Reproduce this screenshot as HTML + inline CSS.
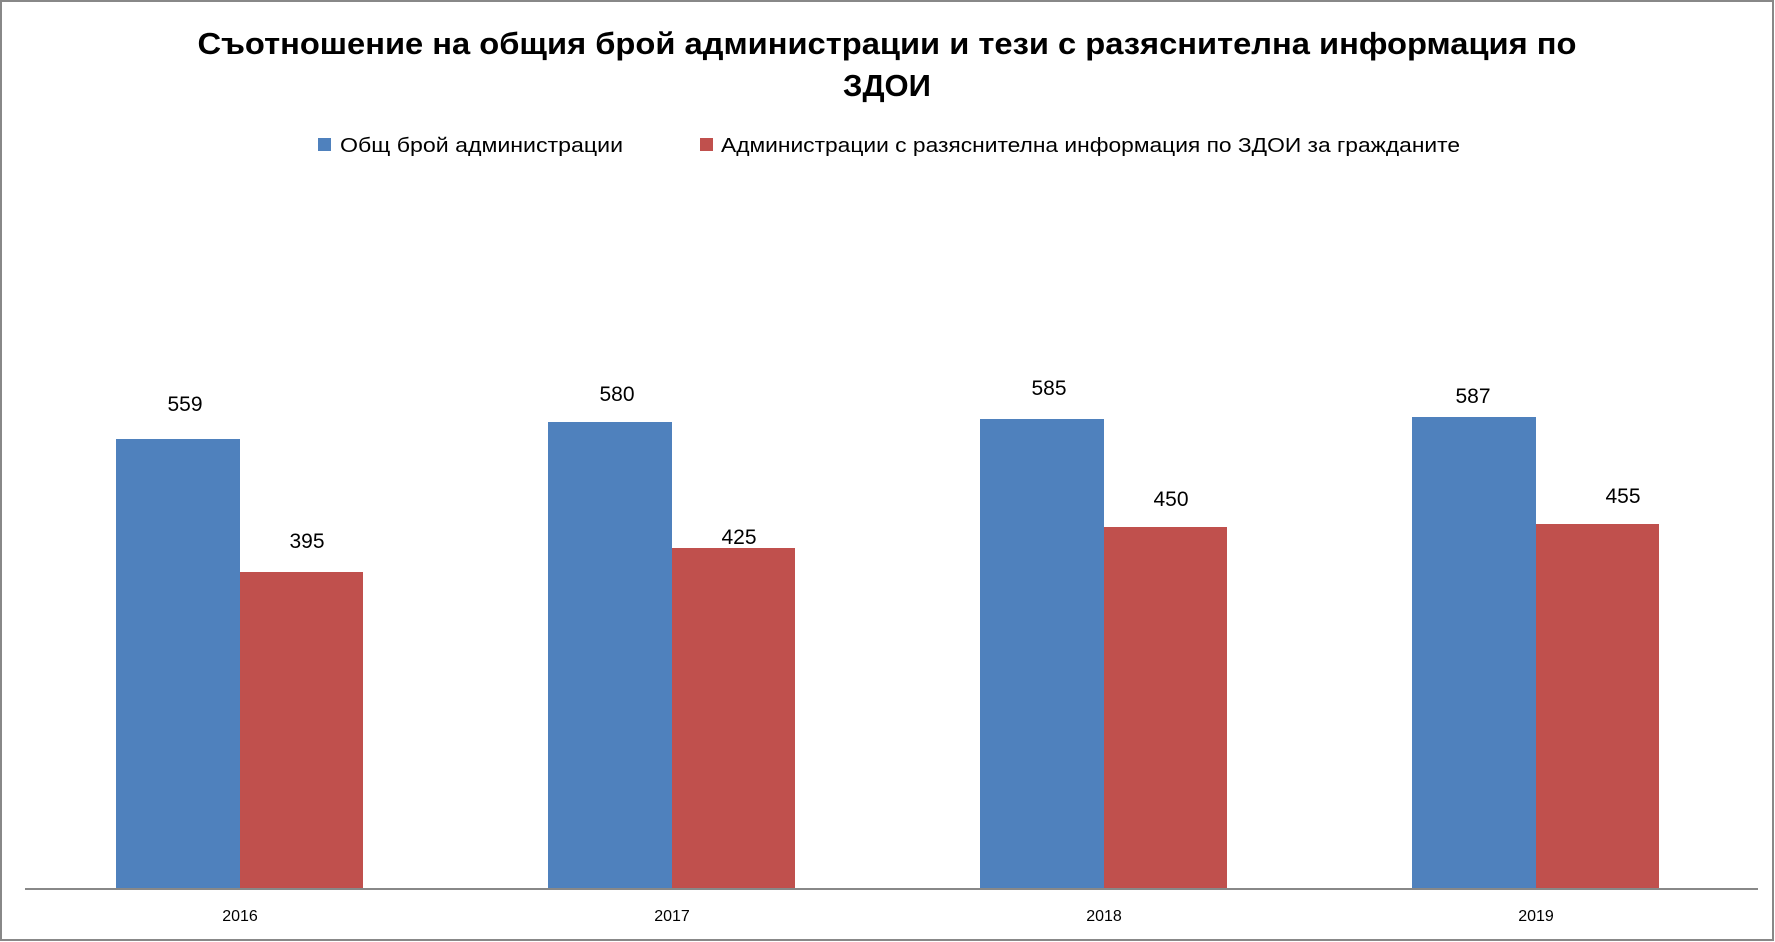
<!DOCTYPE html>
<html><head><meta charset="utf-8"><style>body{margin:0;background:#fff}svg{display:block}</style></head><body>
<svg width="1775" height="942" xmlns="http://www.w3.org/2000/svg" font-family="Liberation Sans, sans-serif">
<rect x="1" y="1" width="1772" height="939" fill="#fff" stroke="#888" stroke-width="2"/>
<text x="887" y="54" font-size="31" font-weight="bold" text-anchor="middle" textLength="1379" lengthAdjust="spacingAndGlyphs">Съотношение на общия брой администрации и тези с разяснителна информация по</text>
<text x="887" y="96" font-size="31" font-weight="bold" text-anchor="middle">ЗДОИ</text>
<rect x="318" y="138" width="13" height="13" fill="#4f81bd"/>
<text x="340" y="152" font-size="20" textLength="283" lengthAdjust="spacingAndGlyphs">Общ брой администрации</text>
<rect x="700" y="138" width="13" height="13" fill="#c0504d"/>
<text x="721" y="152" font-size="20" textLength="739" lengthAdjust="spacingAndGlyphs">Администрации с разяснителна информация по ЗДОИ за гражданите</text>
<g font-size="21" text-anchor="middle">
<rect x="116" y="439" width="124" height="450" fill="#4f81bd"/><rect x="240" y="572" width="123" height="317" fill="#c0504d"/>
<text x="185" y="411">559</text><text x="307" y="548">395</text>
<rect x="548" y="422" width="124" height="467" fill="#4f81bd"/><rect x="672" y="548" width="123" height="341" fill="#c0504d"/>
<text x="617" y="401">580</text><text x="739" y="544">425</text>
<rect x="980" y="419" width="124" height="470" fill="#4f81bd"/><rect x="1104" y="527" width="123" height="362" fill="#c0504d"/>
<text x="1049" y="395">585</text><text x="1171" y="506">450</text>
<rect x="1412" y="417" width="124" height="472" fill="#4f81bd"/><rect x="1536" y="524" width="123" height="365" fill="#c0504d"/>
<text x="1473" y="403">587</text><text x="1623" y="503">455</text>
</g>
<line x1="25" y1="889" x2="1758" y2="889" stroke="#888" stroke-width="2"/>
<g font-size="16" text-anchor="middle">
<text x="240" y="921">2016</text><text x="672" y="921">2017</text><text x="1104" y="921">2018</text><text x="1536" y="921">2019</text>
</g>
</svg>
</body></html>
